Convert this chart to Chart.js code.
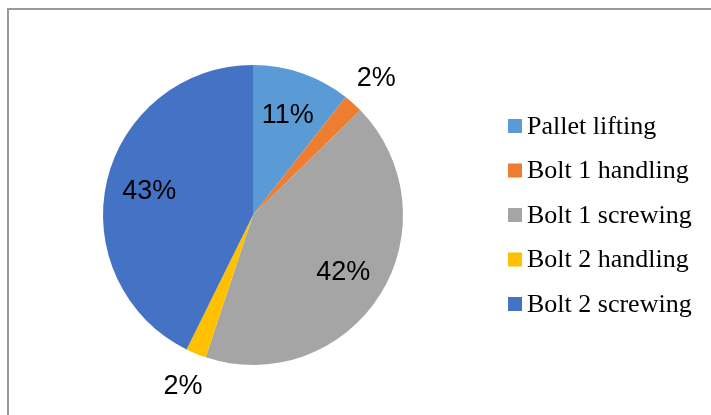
<!DOCTYPE html>
<html>
<head>
<meta charset="utf-8">
<script src="https://cdn.jsdelivr.net/npm/chart.js@4/dist/chart.umd.min.js"></script>
<style>
  html, body { margin: 0; padding: 0; background: #fff; }
  #wrap { position: relative; width: 711px; height: 415px; }
  #frame { position: absolute; left: 7px; top: 8px; right: 0; bottom: 0;
           border-top: 2px solid #9a9a9a; border-left: 2px solid #9a9a9a; }
  canvas { position: absolute; left: 0; top: 0; }
</style>
</head>
<body>
<div id="wrap">
  <div id="frame"></div>
  <canvas id="c" width="711" height="415"></canvas>
</div>
<script>
const categories = ["Pallet lifting", "Bolt 1 handling", "Bolt 1 screwing", "Bolt 2 handling", "Bolt 2 screwing"];
const shares = [10.6, 2.1, 42.4, 2.2, 42.7];
const sliceColors = ["#5B9BD5", "#ED7D31", "#A5A5A5", "#FFC000", "#4472C4"];

const labelPlugin = {
  id: 'pctLabels',
  afterDatasetsDraw(chart) {
    const ctx = chart.ctx;
    const meta = chart.getDatasetMeta(0);
    const data = chart.data.datasets[0].data;
    const total = data.reduce((a, b) => a + b, 0);
    ctx.save();
    ctx.font = '27px "Liberation Sans", Arial, sans-serif';
    ctx.fillStyle = '#000';
    ctx.textAlign = 'center';
    ctx.textBaseline = 'middle';
    meta.data.forEach((arc, i) => {
      const p = arc.getProps(['x', 'y', 'startAngle', 'endAngle', 'outerRadius'], true);
      const mid = (p.startAngle + p.endAngle) / 2;
      const frac = data[i] / total;
      const r = frac < 0.05 ? p.outerRadius * 1.23 : p.outerRadius * 0.71;
      const x = p.x + Math.cos(mid) * r;
      const y = p.y + Math.sin(mid) * r;
      ctx.fillText(Math.round(frac * 100) + '%', x, y + 1);
    });
    ctx.restore();
  }
};

const legendPlugin = {
  id: 'sideLegend',
  afterDraw(chart) {
    const ctx = chart.ctx;
    const labels = chart.data.labels;
    const colors = chart.data.datasets[0].backgroundColor;
    const x0 = 508, yCenter = 215, step = 44.5, box = 14;
    const y0 = yCenter - step * (labels.length - 1) / 2;
    ctx.save();
    ctx.font = '26px "Liberation Serif", "Times New Roman", serif';
    ctx.textBaseline = 'middle';
    ctx.textAlign = 'left';
    labels.forEach((lab, i) => {
      const y = y0 + i * step;
      ctx.fillStyle = colors[i];
      ctx.fillRect(x0, y - box / 2, box, box);
      ctx.fillStyle = '#000';
      ctx.fillText(lab, x0 + box + 5, y + 1);
    });
    ctx.restore();
  }
};

new Chart(document.getElementById('c'), {
  type: 'pie',
  data: {
    labels: categories,
    datasets: [{
      data: shares,
      backgroundColor: sliceColors,
      borderWidth: 0
    }]
  },
  options: {
    responsive: false,
    animation: false,
    layout: { padding: { left: 103, right: 308, top: 65, bottom: 50 } },
    plugins: { legend: { display: false }, tooltip: { enabled: false } }
  },
  plugins: [labelPlugin, legendPlugin]
});
</script>
</body>
</html>
